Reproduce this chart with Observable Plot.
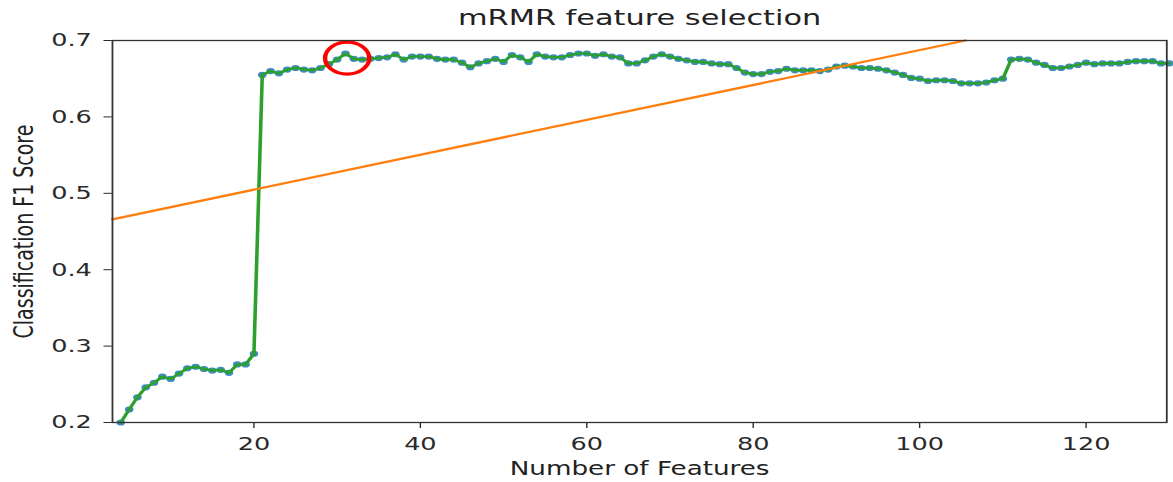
<!DOCTYPE html>
<html>
<head>
<meta charset="utf-8">
<script src="https://cdn.jsdelivr.net/npm/d3@7"></script>
<script src="https://cdn.jsdelivr.net/npm/@observablehq/plot@0.6"></script>
<style>
  html, body { margin: 0; padding: 0; background: #fff; }
  #chart { width: 1173px; height: 482px; overflow: hidden; }
</style>
</head>
<body>
<div id="chart"></div>
<script>
// ---- data ----
const titleText = "mRMR feature selection";
const xLabel = "Number of Features";
const yLabel = "Classification F1 Score";

const firstFeature = 4;
const scores = [
  0.200, 0.217, 0.233, 0.246, 0.252, 0.260, 0.257, 0.264, 0.271, 0.273,
  0.270, 0.268, 0.269, 0.265, 0.276, 0.276, 0.290, 0.655, 0.660, 0.657,
  0.662, 0.664, 0.662, 0.661, 0.664, 0.669, 0.675, 0.683, 0.676, 0.675,
  0.676, 0.677, 0.678, 0.682, 0.675, 0.679, 0.679, 0.679, 0.676, 0.675,
  0.675, 0.671, 0.665, 0.670, 0.673, 0.676, 0.672, 0.681, 0.678, 0.672,
  0.682, 0.679, 0.678, 0.678, 0.681, 0.683, 0.683, 0.680, 0.682, 0.679,
  0.678, 0.670, 0.670, 0.674, 0.679, 0.682, 0.679, 0.676, 0.674, 0.672,
  0.672, 0.670, 0.669, 0.669, 0.664, 0.658, 0.656, 0.656, 0.659, 0.660,
  0.663, 0.661, 0.661, 0.661, 0.660, 0.662, 0.666, 0.667, 0.666, 0.664,
  0.664, 0.663, 0.661, 0.658, 0.655, 0.651, 0.650, 0.647, 0.648, 0.648,
  0.647, 0.644, 0.644, 0.644, 0.645, 0.648, 0.650, 0.675, 0.676, 0.675,
  0.671, 0.668, 0.664, 0.664, 0.666, 0.668, 0.671, 0.669, 0.670, 0.670,
  0.670, 0.672, 0.673, 0.673, 0.673, 0.670, 0.670
];

// straight orange reference line (endpoints)
const trendX = [3, 105.5];
const trendY = [0.466, 0.700];

// red highlight circle around the best score
const highlightX = [31.2];
const highlightY = [0.677];

const xTicks = [20, 40, 60, 80, 100, 120];
const yTicks = [0.2, 0.3, 0.4, 0.5, 0.6, 0.7];
const xDomain = [3, 129.7];
const yDomain = [0.2, 0.7];

// ---- build tables ----
const series = scores.map((s, i) => ({feature: firstFeature + i, score: s}));
const trend = trendX.map((x, i) => ({x, y: trendY[i]}));
const highlight = highlightX.map((x, i) => ({x, y: highlightY[i]}));

// the reference is a horizontally stretched figure: draw narrow, then stretch
const W = 850, H = 482, OUT_W = 1173;

const svg = Plot.plot({
  width: W,
  height: H,
  marginLeft: 81,
  marginRight: 5,
  marginTop: 40,
  marginBottom: 60,
  style: {fontFamily: "DejaVu Sans", fontSize: "18.5px", color: "#2a2a2a", background: "#fff"},
  x: {domain: xDomain, ticks: xTicks, tickSize: 6, tickPadding: 8, label: null, tickFormat: d3.format("d")},
  y: {domain: yDomain, ticks: yTicks, tickSize: 6, tickPadding: 9, label: null, tickFormat: d3.format(".1f")},
  marks: [
    Plot.dot(series, {x: "feature", y: "score", r: 3.1, fill: "#1f77b4", fillOpacity: 0.85, stroke: "none"}),
    Plot.line(series, {x: "feature", y: "score", stroke: "#2ca02c", strokeWidth: 2.6}),
    Plot.line(trend, {x: "x", y: "y", stroke: "#ff7f0e", strokeWidth: 2.3}),
    Plot.dot(highlight, {x: "x", y: "y", r: 16, stroke: "#ff0000", strokeWidth: 3.2, fill: "none"}),
    Plot.frame({stroke: "#333", strokeWidth: 1.3}),
    Plot.text([titleText], {frameAnchor: "top", lineAnchor: "middle", dy: -23, text: d => d, fontSize: 22, fill: "#222"}),
    Plot.text([xLabel], {frameAnchor: "bottom", lineAnchor: "middle", dy: 46, text: d => d, fontSize: 19, fill: "#222"}),
    Plot.text([yLabel], {frameAnchor: "left", textAnchor: "middle", lineAnchor: "middle", dx: -64, rotate: -90, text: d => d, fontSize: 19, fill: "#222"})
  ]
});

svg.setAttribute("width", OUT_W);
svg.setAttribute("height", H);
svg.setAttribute("viewBox", `0 0 ${W} ${H}`);
svg.setAttribute("preserveAspectRatio", "none");
svg.style.maxWidth = "none";
svg.style.width = OUT_W + "px";
svg.style.height = H + "px";
document.getElementById("chart").appendChild(svg);
</script>
</body>
</html>
